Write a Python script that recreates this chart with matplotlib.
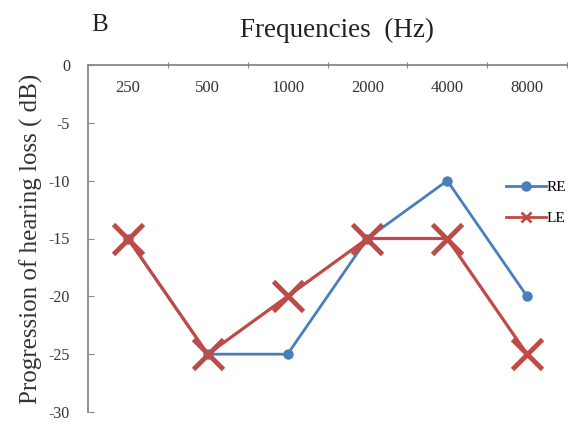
import matplotlib
matplotlib.use("Agg")
import matplotlib.pyplot as plt
from matplotlib.lines import Line2D

# ── Data ─────────────────────────────────────────────────────────
freqs = ["250", "500", "1000", "2000", "4000", "8000"]
re_vals = [-15, -25, -25, -15, -10, -20]
le_vals = [-15, -25, -20, -15, -15, -25]
y_ticks = [0, -5, -10, -15, -20, -25, -30]

BLUE = "#4a7ebb"
RED = "#be4b48"
TXT = "#333333"

plt.rcParams["font.family"] = ["Liberation Serif", "DejaVu Serif"]

fig = plt.figure(figsize=(5.73, 4.24), dpi=100)
ax = fig.add_axes([88/573, 1 - 412/424, (567 - 88)/573, (412 - 65)/424])

x = list(range(len(freqs)))
ax.plot(x, re_vals, color=BLUE, lw=2, marker="o", ms=6.5, zorder=2)
ax.plot(x, le_vals, color=RED, lw=2.3, marker="x", ms=22, mew=3.5, zorder=3)

ax.set_xlim(-0.5, len(freqs) - 0.5)
ax.set_ylim(-30, 0)

# only left + top spines, gray
for s in ["right", "bottom"]:
    ax.spines[s].set_visible(False)
for s in ["left", "top"]:
    ax.spines[s].set_color("#888888")
    ax.spines[s].set_linewidth(1.3)

ax.set_yticks(y_ticks)
ax.set_yticklabels([str(v) for v in y_ticks], fontsize=11.5, color=TXT)
ax.tick_params(axis="y", direction="in", length=4, color="#888888", pad=13)

# category boundary ticks on top, labels just under the top spine
ax.xaxis.tick_top()
ax.set_xticks([i + 0.5 for i in x])
ax.set_xticklabels([])
ax.tick_params(axis="x", direction="inout", length=5, color="#888888")
for i, f in zip(x, freqs):
    ax.text(i, -2.0, f, ha="center", va="center", fontsize=12, color=TXT)

ax.set_ylabel("Progression of hearing loss ( dB)", fontsize=18, color=TXT)
ax.yaxis.set_label_coords(-(88 - 43)/479, 0.5)

fig.text(337/573, 1 - 30/424, "Frequencies  (Hz)", ha="center", va="center", fontsize=19.5, color="#222222")
fig.text(100/573, 1 - 25/424, "B", ha="center", va="center", fontsize=18, color="#222222")

handles = [
    Line2D([], [], color=BLUE, lw=2, marker="o", ms=6.5),
    Line2D([], [], color=RED, lw=2, marker="x", ms=7, mew=2),
]
ax.legend(handles, ["RE", "LE"], loc="center left", bbox_to_anchor=(506/573, 1 - 203/424),
          bbox_transform=fig.transFigure, frameon=False, fontsize=11, handlelength=2.6,
          handletextpad=0.05, labelspacing=1.15, borderaxespad=0, borderpad=0)

plt.savefig("out.png", dpi=100)
